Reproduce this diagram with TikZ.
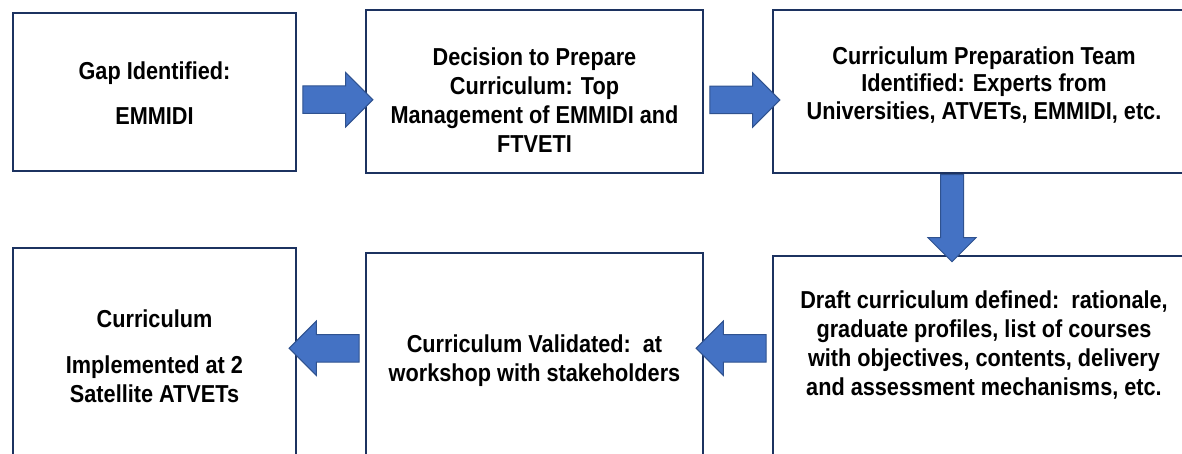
\documentclass[tikz,border=0pt]{standalone}
\usepackage{fontspec}
\setmainfont{Liberation Sans}[FakeStretch=0.885]
\usetikzlibrary{shapes.arrows, positioning, calc}
\definecolor{boxnavy}{RGB}{28, 50, 96}
\definecolor{arrowblue}{RGB}{68, 114, 196}
\definecolor{arrowedge}{RGB}{47, 82, 143}

\begin{document}
\begin{tikzpicture}[x=1pt, y=-1pt]
  % Styles
  \tikzstyle{stage}=[draw=boxnavy, line width=2.5pt, fill=white, inner sep=0pt]
  \tikzstyle{stagetext}=[align=center, inner sep=0pt, font=\fontsize{24.5pt}{29pt}\selectfont\bfseries]
  \tikzstyle{flow}=[single arrow, draw=arrowedge, fill=arrowblue, line width=1pt, single arrow head extend=13.5pt, inner sep=13.25pt, minimum height=70pt]

  \clip (0,0) rectangle (1182,454);

  % Top row
  \node[stage, minimum width=283pt, minimum height=158pt] (gap) at (154.5,92) {};
  \node[stagetext] (gaptext) at ($(gap.center)+(0,1)$) {Gap Identified:\\[16pt]EMMIDI};

  \node[stage, minimum width=337pt, minimum height=163pt] (decide) at (534.5,91.5) {};
  \node[stagetext] (decidetext) at ($(decide.center)+(0,9)$) {Decision to Prepare\\Curriculum: Top\\Management of EMMIDI and\\FTVETI};

  \node[stage, minimum width=422pt, minimum height=163pt] (team) at (984,91.5) {};
  \node[stagetext] (teamtext) at ($(team.center)+(0,-6.5)$) {Curriculum Preparation Team\\[-1.5pt]Identified: Experts from\\[-1.5pt]Universities, ATVETs, EMMIDI, etc.};

  % Bottom row
  \node[stage, minimum width=422pt, minimum height=214pt] (draft) at (984,363) {};
  \node[stagetext] (drafttext) at ($(draft.center)+(0,-17.5)$) {Draft curriculum defined:\ \ rationale,\\graduate profiles, list of courses\\with objectives, contents, delivery\\and assessment mechanisms, etc.};

  \node[stage, minimum width=337pt, minimum height=217pt] (valid) at (534.5,361.5) {};
  \node[stagetext] (validtext) at ($(valid.center)+(0,-0.5)$) {Curriculum Validated:\ \ at\\workshop with stakeholders};

  \node[stage, minimum width=283pt, minimum height=222pt] (impl) at (154.5,359) {};
  \node[stagetext] (impltext) at ($(impl.center)+(0,-2.5)$) {Curriculum\\[17pt]Implemented at 2\\Satellite ATVETs};

  % Arrows
  \node[flow] (gap2decide) at ($(gap.east)!.5!(decide.west)+(0,8)$) {};
  \node[flow] (decide2team) at ($(decide.east)!.5!(team.west)+(0,8.5)$) {};
  \node[flow, rotate=-90, inner sep=11pt, single arrow head extend=12.5pt, minimum height=87pt] (team2draft) at ($(team.south)!.5!(draft.north)+(-32,-2)$) {};
  \node[flow, rotate=180] (draft2valid) at ($(valid.east)!.5!(draft.west)+(0,-14)$) {};
  \node[flow, rotate=180] (valid2impl) at ($(impl.east)!.5!(valid.west)+(0,-12)$) {};
\end{tikzpicture}
\end{document}
